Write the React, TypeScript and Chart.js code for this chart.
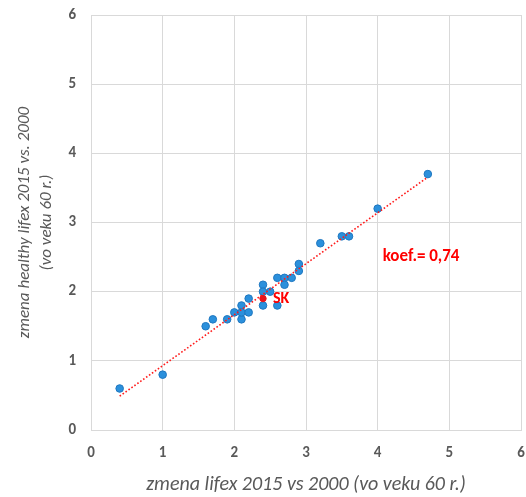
import React, { useEffect, useRef } from "react";
import { Chart, registerables } from "chart.js";

Chart.register(...registerables);

// change in life expectancy at 60 (x) vs change in healthy life expectancy at 60 (y)
const lifexChange = [0.4, 1.0, 1.6, 1.7, 1.9, 2.0, 2.1, 2.1, 2.1, 2.2, 2.2, 2.4, 2.4, 2.4, 2.5, 2.6, 2.6, 2.7, 2.7, 2.8, 2.9, 2.9, 3.2, 3.5, 3.6, 4.0, 4.7];
const healthyChange = [0.6, 0.8, 1.5, 1.6, 1.6, 1.7, 1.8, 1.6, 1.7, 1.7, 1.9, 2.1, 2.0, 1.8, 2.0, 1.8, 2.2, 2.2, 2.1, 2.2, 2.4, 2.3, 2.7, 2.8, 2.8, 3.2, 3.7];
const skLifex = [2.4];
const skHealthy = [1.9];
const skLabel = "SK";
const coefLabel = "koef.= 0,74";
const coefAnchor = { x: 4.07, y: 2.5 };
const xTicks = [0, 1, 2, 3, 4, 5, 6];
const yTicks = [0, 1, 2, 3, 4, 5, 6];
const xTitle = "zmena lifex 2015 vs 2000 (vo veku 60 r.)";
const yTitle = ["zmena healthy lifex 2015 vs. 2000", "(vo veku 60 r.)"];

const FONT = "Carlito, Calibri, Lato, 'Open Sans', sans-serif";
const GRAY = "#595959";

function regression(xs: number[], ys: number[]) {
  const n = xs.length;
  let sx = 0, sy = 0, sxx = 0, sxy = 0;
  for (let i = 0; i < n; i++) {
    sx += xs[i]; sy += ys[i]; sxx += xs[i] * xs[i]; sxy += xs[i] * ys[i];
  }
  const slope = (n * sxy - sx * sy) / (n * sxx - sx * sx);
  const intercept = (sy - slope * sx) / n;
  return { slope, intercept };
}

export default function App() {
  const ref = useRef<HTMLCanvasElement | null>(null);

  useEffect(() => {
    const allX = [...lifexChange, ...skLifex];
    const allY = [...healthyChange, ...skHealthy];
    const { slope, intercept } = regression(allX, allY);
    const minX = Math.min(...allX);
    const maxX = Math.max(...allX);
    const trend = [
      { x: minX, y: intercept + slope * minX },
      { x: maxX, y: intercept + slope * maxX },
    ];

    const labelPlugin = {
      id: "labels",
      afterDatasetsDraw(chart: any) {
        const { ctx, scales } = chart;
        ctx.save();
        ctx.fillStyle = "#ff0000";
        ctx.textBaseline = "middle";
        ctx.textAlign = "left";
        ctx.font = `bold 16px ${FONT}`;
        const sx = scales.x.getPixelForValue(skLifex[0]);
        const sy = scales.y.getPixelForValue(skHealthy[0]);
        ctx.fillText(skLabel, sx + 10, sy);
        ctx.font = `bold 17px ${FONT}`;
        ctx.fillText(coefLabel, scales.x.getPixelForValue(coefAnchor.x), scales.y.getPixelForValue(coefAnchor.y));
        ctx.restore();
      },
    };

    const chart = new Chart(ref.current as HTMLCanvasElement, {
      type: "scatter",
      data: {
        datasets: [
          {
            label: "trend",
            type: "line",
            data: trend,
            borderColor: "#ff1a1a",
            borderWidth: 1.6,
            borderDash: [1.6, 2],
            pointRadius: 0,
            fill: false,
            order: 0,
          } as any,
          {
            label: "SK",
            data: skLifex.map((x, i) => ({ x, y: skHealthy[i] })),
            backgroundColor: "#e8141b",
            borderColor: "#e8141b",
            pointRadius: 3.2,
            order: 1,
          },
          {
            label: "krajiny",
            data: lifexChange.map((x, i) => ({ x, y: healthyChange[i] })),
            backgroundColor: "#2b90dc",
            borderColor: "#1f77c0",
            borderWidth: 1,
            pointRadius: 3.8,
            order: 2,
          },
        ],
      },
      options: {
        responsive: false,
        animation: false,
        layout: { padding: { left: 0, right: 3, top: 15, bottom: 0 } },
        plugins: { legend: { display: false }, tooltip: { enabled: false } },
        scales: {
          x: {
            type: "linear",
            min: 0,
            max: 6,
            afterBuildTicks: (s: any) => { s.ticks = xTicks.map((v) => ({ value: v })); },
            afterFit: (s: any) => { s.height = 67; s.paddingLeft = 0; s.paddingRight = 0; },
            grid: { color: "#d9d9d9", lineWidth: 1, drawTicks: false },
            border: { color: "#d9d9d9", width: 1 },
            ticks: { color: GRAY, font: { family: FONT, size: 15, weight: "bold" }, padding: 14 },
            title: {
              display: true,
              text: xTitle,
              color: GRAY,
              font: { family: FONT, size: 20, style: "italic" },
              padding: { top: 0, bottom: 0 },
            },
          },
          y: {
            type: "linear",
            min: 0,
            max: 6,
            afterBuildTicks: (s: any) => { s.ticks = yTicks.map((v) => ({ value: v })); },
            afterFit: (s: any) => { s.width = 91; s.paddingTop = 0; s.paddingBottom = 0; },
            grid: { color: "#d9d9d9", lineWidth: 1, drawTicks: false },
            border: { color: "#d9d9d9", width: 1 },
            ticks: { color: GRAY, font: { family: FONT, size: 15, weight: "bold" }, padding: 15 },
            title: {
              display: true,
              text: yTitle,
              color: GRAY,
              font: { family: FONT, size: 17, style: "italic", lineHeight: 1.3 },
              padding: { top: 14, bottom: 0 },
            },
          },
        },
      },
      plugins: [labelPlugin],
    });
    return () => chart.destroy();
  }, []);

  return (
    <div style={{ position: "fixed", left: 0, top: 0, width: 526, height: 497, background: "#fff" }}>
      <canvas ref={ref} width={526} height={497} />
    </div>
  );
}
